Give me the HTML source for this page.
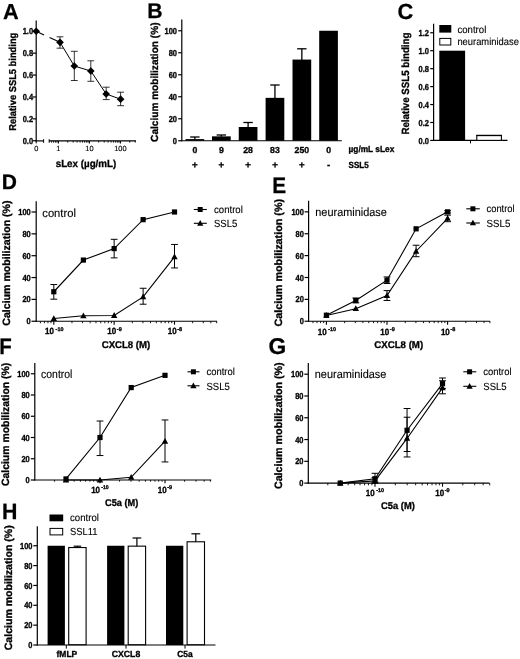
<!DOCTYPE html>
<html><head><meta charset="utf-8"><title>Figure</title>
<style>
html,body{margin:0;padding:0;background:#fff;}
body{width:520px;height:659px;overflow:hidden;font-family:"Liberation Sans",sans-serif;}
svg{display:block;filter:grayscale(1);}
svg text{font-family:"Liberation Sans",sans-serif;text-rendering:geometricPrecision;}
</style></head><body>
<svg width="520" height="659" viewBox="0 0 520 659">
<rect x="0" y="0" width="520" height="659" fill="#fff"/>
<text x="3.00" y="19.20" font-size="21.7" font-weight="bold" text-anchor="start" fill="#000" stroke="#000" stroke-width="0.25">A</text>
<line x1="36.20" y1="20.50" x2="36.20" y2="141.35" stroke="#000" stroke-width="1.2" />
<line x1="32.70" y1="31.25" x2="36.20" y2="31.25" stroke="#000" stroke-width="1.2" />
<text x="33.10" y="34.34" font-size="8.7" font-weight="bold" text-anchor="end" fill="#000" stroke="#000" stroke-width="0.32" textLength="10.40" lengthAdjust="spacingAndGlyphs">1.0</text>
<line x1="32.70" y1="53.15" x2="36.20" y2="53.15" stroke="#000" stroke-width="1.2" />
<text x="33.10" y="56.24" font-size="8.7" font-weight="bold" text-anchor="end" fill="#000" stroke="#000" stroke-width="0.32" textLength="10.40" lengthAdjust="spacingAndGlyphs">0.8</text>
<line x1="32.70" y1="75.05" x2="36.20" y2="75.05" stroke="#000" stroke-width="1.2" />
<text x="33.10" y="78.14" font-size="8.7" font-weight="bold" text-anchor="end" fill="#000" stroke="#000" stroke-width="0.32" textLength="10.40" lengthAdjust="spacingAndGlyphs">0.6</text>
<line x1="32.70" y1="96.95" x2="36.20" y2="96.95" stroke="#000" stroke-width="1.2" />
<text x="33.10" y="100.04" font-size="8.7" font-weight="bold" text-anchor="end" fill="#000" stroke="#000" stroke-width="0.32" textLength="10.40" lengthAdjust="spacingAndGlyphs">0.4</text>
<line x1="32.70" y1="118.85" x2="36.20" y2="118.85" stroke="#000" stroke-width="1.2" />
<text x="33.10" y="121.94" font-size="8.7" font-weight="bold" text-anchor="end" fill="#000" stroke="#000" stroke-width="0.32" textLength="10.40" lengthAdjust="spacingAndGlyphs">0.2</text>
<line x1="32.70" y1="140.75" x2="36.20" y2="140.75" stroke="#000" stroke-width="1.2" />
<text x="33.10" y="143.84" font-size="8.7" font-weight="bold" text-anchor="end" fill="#000" stroke="#000" stroke-width="0.32" textLength="10.40" lengthAdjust="spacingAndGlyphs">0.0</text>
<line x1="35.60" y1="140.90" x2="43.60" y2="140.90" stroke="#000" stroke-width="1.2" />
<line x1="43.60" y1="139.20" x2="43.60" y2="142.80" stroke="#000" stroke-width="1.0" />
<line x1="49.20" y1="140.90" x2="136.00" y2="140.90" stroke="#000" stroke-width="1.2" />
<line x1="49.20" y1="139.20" x2="49.20" y2="142.80" stroke="#000" stroke-width="1.0" />
<line x1="51.52" y1="140.90" x2="51.52" y2="142.60" stroke="#000" stroke-width="0.9" />
<line x1="53.60" y1="140.90" x2="53.60" y2="142.60" stroke="#000" stroke-width="0.9" />
<line x1="55.40" y1="140.90" x2="55.40" y2="142.60" stroke="#000" stroke-width="0.9" />
<line x1="56.98" y1="140.90" x2="56.98" y2="142.60" stroke="#000" stroke-width="0.9" />
<line x1="58.40" y1="140.90" x2="58.40" y2="143.50" stroke="#000" stroke-width="1.1" />
<line x1="67.73" y1="140.90" x2="67.73" y2="142.60" stroke="#000" stroke-width="0.9" />
<line x1="73.19" y1="140.90" x2="73.19" y2="142.60" stroke="#000" stroke-width="0.9" />
<line x1="77.06" y1="140.90" x2="77.06" y2="142.60" stroke="#000" stroke-width="0.9" />
<line x1="80.07" y1="140.90" x2="80.07" y2="142.60" stroke="#000" stroke-width="0.9" />
<line x1="82.52" y1="140.90" x2="82.52" y2="142.60" stroke="#000" stroke-width="0.9" />
<line x1="84.60" y1="140.90" x2="84.60" y2="142.60" stroke="#000" stroke-width="0.9" />
<line x1="86.40" y1="140.90" x2="86.40" y2="142.60" stroke="#000" stroke-width="0.9" />
<line x1="87.98" y1="140.90" x2="87.98" y2="142.60" stroke="#000" stroke-width="0.9" />
<line x1="89.40" y1="140.90" x2="89.40" y2="143.50" stroke="#000" stroke-width="1.1" />
<line x1="98.73" y1="140.90" x2="98.73" y2="142.60" stroke="#000" stroke-width="0.9" />
<line x1="104.19" y1="140.90" x2="104.19" y2="142.60" stroke="#000" stroke-width="0.9" />
<line x1="108.06" y1="140.90" x2="108.06" y2="142.60" stroke="#000" stroke-width="0.9" />
<line x1="111.07" y1="140.90" x2="111.07" y2="142.60" stroke="#000" stroke-width="0.9" />
<line x1="113.52" y1="140.90" x2="113.52" y2="142.60" stroke="#000" stroke-width="0.9" />
<line x1="115.60" y1="140.90" x2="115.60" y2="142.60" stroke="#000" stroke-width="0.9" />
<line x1="117.40" y1="140.90" x2="117.40" y2="142.60" stroke="#000" stroke-width="0.9" />
<line x1="118.98" y1="140.90" x2="118.98" y2="142.60" stroke="#000" stroke-width="0.9" />
<line x1="120.40" y1="140.90" x2="120.40" y2="143.50" stroke="#000" stroke-width="1.1" />
<line x1="129.73" y1="140.90" x2="129.73" y2="142.60" stroke="#000" stroke-width="0.9" />
<line x1="135.19" y1="140.90" x2="135.19" y2="142.60" stroke="#000" stroke-width="0.9" />
<line x1="36.20" y1="140.90" x2="36.20" y2="143.40" stroke="#000" stroke-width="1.0" />
<text x="36.20" y="151.00" font-size="7.4" font-weight="normal" text-anchor="middle" fill="#000" stroke="#000" stroke-width="0.12">0</text>
<text x="58.40" y="151.00" font-size="7.4" font-weight="normal" text-anchor="middle" fill="#000" stroke="#000" stroke-width="0.12">1</text>
<text x="89.40" y="151.00" font-size="7.4" font-weight="normal" text-anchor="middle" fill="#000" stroke="#000" stroke-width="0.12">10</text>
<text x="120.40" y="151.00" font-size="7.4" font-weight="normal" text-anchor="middle" fill="#000" stroke="#000" stroke-width="0.12">100</text>
<text x="86.00" y="167.00" font-size="10.2" font-weight="bold" text-anchor="middle" fill="#000" stroke="#000" stroke-width="0.32" textLength="60.60" lengthAdjust="spacingAndGlyphs">sLex (µg/mL)</text>
<text x="15.60" y="81.70" font-size="10" font-weight="bold" text-anchor="middle" fill="#000" stroke="#000" stroke-width="0.32" textLength="98.00" lengthAdjust="spacingAndGlyphs" transform="rotate(-90 15.60 81.70)">Relative SSL5 binding</text>
<line x1="36.20" y1="31.25" x2="44.05" y2="34.90" stroke="#000" stroke-width="1.1" />
<line x1="49.53" y1="37.44" x2="60.00" y2="42.30" stroke="#000" stroke-width="1.1" />
<polyline points="60.00,42.30 74.30,66.00 90.80,71.00 106.20,94.00 120.60,99.20" fill="none" stroke="#000" stroke-width="1.0"/>
<line x1="60.00" y1="36.80" x2="60.00" y2="48.20" stroke="#000" stroke-width="0.8" />
<line x1="56.60" y1="36.80" x2="63.40" y2="36.80" stroke="#000" stroke-width="0.8" />
<line x1="56.60" y1="48.20" x2="63.40" y2="48.20" stroke="#000" stroke-width="0.8" />
<line x1="74.30" y1="51.30" x2="74.30" y2="80.50" stroke="#000" stroke-width="0.8" />
<line x1="70.90" y1="51.30" x2="77.70" y2="51.30" stroke="#000" stroke-width="0.8" />
<line x1="70.90" y1="80.50" x2="77.70" y2="80.50" stroke="#000" stroke-width="0.8" />
<line x1="90.80" y1="60.80" x2="90.80" y2="81.30" stroke="#000" stroke-width="0.8" />
<line x1="87.40" y1="60.80" x2="94.20" y2="60.80" stroke="#000" stroke-width="0.8" />
<line x1="87.40" y1="81.30" x2="94.20" y2="81.30" stroke="#000" stroke-width="0.8" />
<line x1="106.20" y1="87.20" x2="106.20" y2="99.60" stroke="#000" stroke-width="0.8" />
<line x1="102.80" y1="87.20" x2="109.60" y2="87.20" stroke="#000" stroke-width="0.8" />
<line x1="102.80" y1="99.60" x2="109.60" y2="99.60" stroke="#000" stroke-width="0.8" />
<line x1="120.60" y1="92.20" x2="120.60" y2="105.70" stroke="#000" stroke-width="0.8" />
<line x1="117.20" y1="92.20" x2="124.00" y2="92.20" stroke="#000" stroke-width="0.8" />
<line x1="117.20" y1="105.70" x2="124.00" y2="105.70" stroke="#000" stroke-width="0.8" />
<polygon points="36.20,27.40 40.05,31.25 36.20,35.10 32.35,31.25" fill="#000"/>
<polygon points="60.00,38.45 63.85,42.30 60.00,46.15 56.15,42.30" fill="#000"/>
<polygon points="74.30,62.15 78.15,66.00 74.30,69.85 70.45,66.00" fill="#000"/>
<polygon points="90.80,67.15 94.65,71.00 90.80,74.85 86.95,71.00" fill="#000"/>
<polygon points="106.20,90.15 110.05,94.00 106.20,97.85 102.35,94.00" fill="#000"/>
<polygon points="120.60,95.35 124.45,99.20 120.60,103.05 116.75,99.20" fill="#000"/>
<text x="147.30" y="17.60" font-size="21.2" font-weight="bold" text-anchor="start" fill="#000" stroke="#000" stroke-width="0.25">B</text>
<line x1="181.80" y1="19.50" x2="181.80" y2="141.35" stroke="#000" stroke-width="1.2" />
<line x1="178.20" y1="30.75" x2="181.80" y2="30.75" stroke="#000" stroke-width="1.2" />
<text x="177.00" y="33.84" font-size="8.7" font-weight="bold" text-anchor="end" fill="#000" stroke="#000" stroke-width="0.32" textLength="12.48" lengthAdjust="spacingAndGlyphs">100</text>
<line x1="178.20" y1="52.75" x2="181.80" y2="52.75" stroke="#000" stroke-width="1.2" />
<text x="177.00" y="55.84" font-size="8.7" font-weight="bold" text-anchor="end" fill="#000" stroke="#000" stroke-width="0.32" textLength="8.32" lengthAdjust="spacingAndGlyphs">80</text>
<line x1="178.20" y1="74.75" x2="181.80" y2="74.75" stroke="#000" stroke-width="1.2" />
<text x="177.00" y="77.84" font-size="8.7" font-weight="bold" text-anchor="end" fill="#000" stroke="#000" stroke-width="0.32" textLength="8.32" lengthAdjust="spacingAndGlyphs">60</text>
<line x1="178.20" y1="96.75" x2="181.80" y2="96.75" stroke="#000" stroke-width="1.2" />
<text x="177.00" y="99.84" font-size="8.7" font-weight="bold" text-anchor="end" fill="#000" stroke="#000" stroke-width="0.32" textLength="8.32" lengthAdjust="spacingAndGlyphs">40</text>
<line x1="178.20" y1="118.75" x2="181.80" y2="118.75" stroke="#000" stroke-width="1.2" />
<text x="177.00" y="121.84" font-size="8.7" font-weight="bold" text-anchor="end" fill="#000" stroke="#000" stroke-width="0.32" textLength="8.32" lengthAdjust="spacingAndGlyphs">20</text>
<line x1="178.20" y1="140.75" x2="181.80" y2="140.75" stroke="#000" stroke-width="1.2" />
<text x="177.00" y="143.84" font-size="8.7" font-weight="bold" text-anchor="end" fill="#000" stroke="#000" stroke-width="0.32" textLength="4.16" lengthAdjust="spacingAndGlyphs">0</text>
<line x1="181.20" y1="140.75" x2="341.80" y2="140.75" stroke="#000" stroke-width="1.2" />
<text x="157.70" y="82.20" font-size="10.3" font-weight="bold" text-anchor="middle" fill="#000" stroke="#000" stroke-width="0.32" textLength="119.40" lengthAdjust="spacingAndGlyphs" transform="rotate(-90 157.70 82.20)">Calcium mobilization (%)</text>
<rect x="185.50" y="139.10" width="18.70" height="1.65" fill="#000"/>
<line x1="194.85" y1="137.00" x2="194.85" y2="139.60" stroke="#000" stroke-width="1.3" />
<line x1="190.15" y1="137.00" x2="199.55" y2="137.00" stroke="#000" stroke-width="1.3" />
<text x="194.85" y="152.60" font-size="8.7" font-weight="bold" text-anchor="middle" fill="#000" stroke="#000" stroke-width="0.32">0</text>
<text x="194.85" y="168.30" font-size="9.6" font-weight="bold" text-anchor="middle" fill="#000" stroke="#000" stroke-width="0.32">+</text>
<rect x="212.00" y="136.35" width="18.70" height="4.40" fill="#000"/>
<line x1="221.35" y1="135.00" x2="221.35" y2="136.85" stroke="#000" stroke-width="1.3" />
<line x1="216.65" y1="135.00" x2="226.05" y2="135.00" stroke="#000" stroke-width="1.3" />
<text x="221.35" y="152.60" font-size="8.7" font-weight="bold" text-anchor="middle" fill="#000" stroke="#000" stroke-width="0.32">9</text>
<text x="221.35" y="168.30" font-size="9.6" font-weight="bold" text-anchor="middle" fill="#000" stroke="#000" stroke-width="0.32">+</text>
<rect x="238.75" y="127.00" width="18.70" height="13.75" fill="#000"/>
<line x1="248.10" y1="122.50" x2="248.10" y2="127.50" stroke="#000" stroke-width="1.3" />
<line x1="243.40" y1="122.50" x2="252.80" y2="122.50" stroke="#000" stroke-width="1.3" />
<text x="248.10" y="152.60" font-size="8.7" font-weight="bold" text-anchor="middle" fill="#000" stroke="#000" stroke-width="0.32">28</text>
<text x="248.10" y="168.30" font-size="9.6" font-weight="bold" text-anchor="middle" fill="#000" stroke="#000" stroke-width="0.32">+</text>
<rect x="265.60" y="97.85" width="18.70" height="42.90" fill="#000"/>
<line x1="274.95" y1="85.00" x2="274.95" y2="98.35" stroke="#000" stroke-width="1.3" />
<line x1="270.25" y1="85.00" x2="279.65" y2="85.00" stroke="#000" stroke-width="1.3" />
<text x="274.95" y="152.60" font-size="8.7" font-weight="bold" text-anchor="middle" fill="#000" stroke="#000" stroke-width="0.32">83</text>
<text x="274.95" y="168.30" font-size="9.6" font-weight="bold" text-anchor="middle" fill="#000" stroke="#000" stroke-width="0.32">+</text>
<rect x="292.50" y="59.57" width="18.70" height="81.18" fill="#000"/>
<line x1="301.85" y1="48.80" x2="301.85" y2="60.07" stroke="#000" stroke-width="1.3" />
<line x1="297.15" y1="48.80" x2="306.55" y2="48.80" stroke="#000" stroke-width="1.3" />
<text x="301.85" y="152.60" font-size="8.7" font-weight="bold" text-anchor="middle" fill="#000" stroke="#000" stroke-width="0.32">250</text>
<text x="301.85" y="168.30" font-size="9.6" font-weight="bold" text-anchor="middle" fill="#000" stroke="#000" stroke-width="0.32">+</text>
<rect x="319.20" y="30.75" width="18.70" height="110.00" fill="#000"/>
<text x="328.55" y="152.60" font-size="8.7" font-weight="bold" text-anchor="middle" fill="#000" stroke="#000" stroke-width="0.32">0</text>
<text x="328.55" y="168.30" font-size="9.6" font-weight="bold" text-anchor="middle" fill="#000" stroke="#000" stroke-width="0.32">-</text>
<text x="348.50" y="152.20" font-size="8.9" font-weight="bold" text-anchor="start" fill="#000" stroke="#000" stroke-width="0.32" textLength="45.80" lengthAdjust="spacingAndGlyphs">µg/mL sLex</text>
<text x="348.50" y="168.40" font-size="8.9" font-weight="bold" text-anchor="start" fill="#000" stroke="#000" stroke-width="0.32" textLength="20.20" lengthAdjust="spacingAndGlyphs">SSL5</text>
<text x="397.60" y="18.60" font-size="21.8" font-weight="bold" text-anchor="start" fill="#000" stroke="#000" stroke-width="0.25">C</text>
<line x1="433.60" y1="23.80" x2="433.60" y2="141.00" stroke="#000" stroke-width="1.2" />
<line x1="430.20" y1="32.75" x2="433.60" y2="32.75" stroke="#000" stroke-width="1.2" />
<text x="429.00" y="35.84" font-size="8.7" font-weight="bold" text-anchor="end" fill="#000" stroke="#000" stroke-width="0.32" textLength="10.40" lengthAdjust="spacingAndGlyphs">1.2</text>
<line x1="430.20" y1="50.70" x2="433.60" y2="50.70" stroke="#000" stroke-width="1.2" />
<text x="429.00" y="53.79" font-size="8.7" font-weight="bold" text-anchor="end" fill="#000" stroke="#000" stroke-width="0.32" textLength="10.40" lengthAdjust="spacingAndGlyphs">1.0</text>
<line x1="430.20" y1="68.65" x2="433.60" y2="68.65" stroke="#000" stroke-width="1.2" />
<text x="429.00" y="71.74" font-size="8.7" font-weight="bold" text-anchor="end" fill="#000" stroke="#000" stroke-width="0.32" textLength="10.40" lengthAdjust="spacingAndGlyphs">0.8</text>
<line x1="430.20" y1="86.60" x2="433.60" y2="86.60" stroke="#000" stroke-width="1.2" />
<text x="429.00" y="89.69" font-size="8.7" font-weight="bold" text-anchor="end" fill="#000" stroke="#000" stroke-width="0.32" textLength="10.40" lengthAdjust="spacingAndGlyphs">0.6</text>
<line x1="430.20" y1="104.55" x2="433.60" y2="104.55" stroke="#000" stroke-width="1.2" />
<text x="429.00" y="107.64" font-size="8.7" font-weight="bold" text-anchor="end" fill="#000" stroke="#000" stroke-width="0.32" textLength="10.40" lengthAdjust="spacingAndGlyphs">0.4</text>
<line x1="430.20" y1="122.50" x2="433.60" y2="122.50" stroke="#000" stroke-width="1.2" />
<text x="429.00" y="125.59" font-size="8.7" font-weight="bold" text-anchor="end" fill="#000" stroke="#000" stroke-width="0.32" textLength="10.40" lengthAdjust="spacingAndGlyphs">0.2</text>
<line x1="430.20" y1="140.45" x2="433.60" y2="140.45" stroke="#000" stroke-width="1.2" />
<text x="429.00" y="143.54" font-size="8.7" font-weight="bold" text-anchor="end" fill="#000" stroke="#000" stroke-width="0.32" textLength="10.40" lengthAdjust="spacingAndGlyphs">0.0</text>
<line x1="433.20" y1="140.40" x2="507.50" y2="140.40" stroke="#000" stroke-width="1.2" />
<line x1="470.50" y1="140.40" x2="470.50" y2="143.40" stroke="#000" stroke-width="1.0" />
<rect x="439.30" y="50.70" width="25.80" height="89.70" fill="#000"/>
<rect x="476.80" y="135.60" width="24.60" height="4.80" fill="#fff" stroke="#000" stroke-width="1.1"/>
<line x1="476.30" y1="135.40" x2="501.90" y2="135.40" stroke="#000" stroke-width="1.25" />
<rect x="439.30" y="25.00" width="12.00" height="7.60" fill="#000"/>
<rect x="439.80" y="38.40" width="11.00" height="6.60" fill="#fff" stroke="#000" stroke-width="1.0"/>
<text x="457.40" y="32.80" font-size="10.2" font-weight="normal" text-anchor="start" fill="#000" stroke="#000" stroke-width="0.12" textLength="28.90" lengthAdjust="spacingAndGlyphs">control</text>
<text x="457.40" y="44.80" font-size="10.2" font-weight="normal" text-anchor="start" fill="#000" stroke="#000" stroke-width="0.12" textLength="61.50" lengthAdjust="spacingAndGlyphs">neuraminidase</text>
<text x="409.10" y="83.60" font-size="10.4" font-weight="bold" text-anchor="middle" fill="#000" stroke="#000" stroke-width="0.32" textLength="102.00" lengthAdjust="spacingAndGlyphs" transform="rotate(-90 409.10 83.60)">Relative SSL5 binding</text>
<text x="1.80" y="189.10" font-size="21.0" font-weight="bold" text-anchor="start" fill="#000" stroke="#000" stroke-width="0.25">D</text>
<line x1="36.20" y1="201.30" x2="36.20" y2="321.85" stroke="#000" stroke-width="1.2" />
<line x1="31.50" y1="212.00" x2="36.20" y2="212.00" stroke="#000" stroke-width="1.2" />
<text x="30.70" y="215.09" font-size="8.7" font-weight="bold" text-anchor="end" fill="#000" stroke="#000" stroke-width="0.32" textLength="12.48" lengthAdjust="spacingAndGlyphs">100</text>
<line x1="31.50" y1="233.85" x2="36.20" y2="233.85" stroke="#000" stroke-width="1.2" />
<text x="30.70" y="236.94" font-size="8.7" font-weight="bold" text-anchor="end" fill="#000" stroke="#000" stroke-width="0.32" textLength="8.32" lengthAdjust="spacingAndGlyphs">80</text>
<line x1="31.50" y1="255.70" x2="36.20" y2="255.70" stroke="#000" stroke-width="1.2" />
<text x="30.70" y="258.79" font-size="8.7" font-weight="bold" text-anchor="end" fill="#000" stroke="#000" stroke-width="0.32" textLength="8.32" lengthAdjust="spacingAndGlyphs">60</text>
<line x1="31.50" y1="277.55" x2="36.20" y2="277.55" stroke="#000" stroke-width="1.2" />
<text x="30.70" y="280.64" font-size="8.7" font-weight="bold" text-anchor="end" fill="#000" stroke="#000" stroke-width="0.32" textLength="8.32" lengthAdjust="spacingAndGlyphs">40</text>
<line x1="31.50" y1="299.40" x2="36.20" y2="299.40" stroke="#000" stroke-width="1.2" />
<text x="30.70" y="302.49" font-size="8.7" font-weight="bold" text-anchor="end" fill="#000" stroke="#000" stroke-width="0.32" textLength="8.32" lengthAdjust="spacingAndGlyphs">20</text>
<line x1="31.50" y1="321.25" x2="36.20" y2="321.25" stroke="#000" stroke-width="1.2" />
<text x="30.70" y="324.34" font-size="8.7" font-weight="bold" text-anchor="end" fill="#000" stroke="#000" stroke-width="0.32" textLength="4.16" lengthAdjust="spacingAndGlyphs">0</text>
<line x1="35.60" y1="321.25" x2="217.00" y2="321.25" stroke="#000" stroke-width="1.2" />
<line x1="40.41" y1="321.25" x2="40.41" y2="323.25" stroke="#000" stroke-width="0.9" />
<line x1="44.45" y1="321.25" x2="44.45" y2="323.25" stroke="#000" stroke-width="0.9" />
<line x1="47.95" y1="321.25" x2="47.95" y2="323.25" stroke="#000" stroke-width="0.9" />
<line x1="51.04" y1="321.25" x2="51.04" y2="323.25" stroke="#000" stroke-width="0.9" />
<line x1="53.80" y1="321.25" x2="53.80" y2="324.65" stroke="#000" stroke-width="1.1" />
<line x1="71.97" y1="321.25" x2="71.97" y2="323.25" stroke="#000" stroke-width="0.9" />
<line x1="82.59" y1="321.25" x2="82.59" y2="323.25" stroke="#000" stroke-width="0.9" />
<line x1="90.13" y1="321.25" x2="90.13" y2="323.25" stroke="#000" stroke-width="0.9" />
<line x1="95.98" y1="321.25" x2="95.98" y2="323.25" stroke="#000" stroke-width="0.9" />
<line x1="100.76" y1="321.25" x2="100.76" y2="323.25" stroke="#000" stroke-width="0.9" />
<line x1="104.80" y1="321.25" x2="104.80" y2="323.25" stroke="#000" stroke-width="0.9" />
<line x1="108.30" y1="321.25" x2="108.30" y2="323.25" stroke="#000" stroke-width="0.9" />
<line x1="111.39" y1="321.25" x2="111.39" y2="323.25" stroke="#000" stroke-width="0.9" />
<line x1="114.15" y1="321.25" x2="114.15" y2="324.65" stroke="#000" stroke-width="1.1" />
<line x1="132.32" y1="321.25" x2="132.32" y2="323.25" stroke="#000" stroke-width="0.9" />
<line x1="142.94" y1="321.25" x2="142.94" y2="323.25" stroke="#000" stroke-width="0.9" />
<line x1="150.48" y1="321.25" x2="150.48" y2="323.25" stroke="#000" stroke-width="0.9" />
<line x1="156.33" y1="321.25" x2="156.33" y2="323.25" stroke="#000" stroke-width="0.9" />
<line x1="161.11" y1="321.25" x2="161.11" y2="323.25" stroke="#000" stroke-width="0.9" />
<line x1="165.15" y1="321.25" x2="165.15" y2="323.25" stroke="#000" stroke-width="0.9" />
<line x1="168.65" y1="321.25" x2="168.65" y2="323.25" stroke="#000" stroke-width="0.9" />
<line x1="171.74" y1="321.25" x2="171.74" y2="323.25" stroke="#000" stroke-width="0.9" />
<line x1="174.50" y1="321.25" x2="174.50" y2="324.65" stroke="#000" stroke-width="1.1" />
<line x1="192.67" y1="321.25" x2="192.67" y2="323.25" stroke="#000" stroke-width="0.9" />
<line x1="203.29" y1="321.25" x2="203.29" y2="323.25" stroke="#000" stroke-width="0.9" />
<line x1="210.83" y1="321.25" x2="210.83" y2="323.25" stroke="#000" stroke-width="0.9" />
<line x1="216.68" y1="321.25" x2="216.68" y2="323.25" stroke="#000" stroke-width="0.9" />
<text x="45.00" y="334.35" font-size="9.0" font-weight="bold" text-anchor="start" fill="#000" stroke="#000" stroke-width="0.32" textLength="8.90" lengthAdjust="spacingAndGlyphs">10</text>
<text x="55.60" y="330.95" font-size="5.4" font-weight="bold" text-anchor="start" fill="#000" stroke="#000" stroke-width="0.32" textLength="7.80" lengthAdjust="spacingAndGlyphs">-10</text>
<text x="107.35" y="334.35" font-size="9.0" font-weight="bold" text-anchor="start" fill="#000" stroke="#000" stroke-width="0.32" textLength="8.90" lengthAdjust="spacingAndGlyphs">10</text>
<text x="116.85" y="330.95" font-size="5.4" font-weight="bold" text-anchor="start" fill="#000" stroke="#000" stroke-width="0.32" textLength="4.90" lengthAdjust="spacingAndGlyphs">-9</text>
<text x="167.70" y="334.35" font-size="9.0" font-weight="bold" text-anchor="start" fill="#000" stroke="#000" stroke-width="0.32" textLength="8.90" lengthAdjust="spacingAndGlyphs">10</text>
<text x="177.20" y="330.95" font-size="5.4" font-weight="bold" text-anchor="start" fill="#000" stroke="#000" stroke-width="0.32" textLength="4.90" lengthAdjust="spacingAndGlyphs">-8</text>
<text x="9.70" y="263.10" font-size="10.6" font-weight="bold" text-anchor="middle" fill="#000" stroke="#000" stroke-width="0.32" textLength="125.30" lengthAdjust="spacingAndGlyphs" transform="rotate(-90 9.70 263.10)">Calcium mobilization (%)</text>
<text x="42.30" y="216.50" font-size="11.6" font-weight="normal" text-anchor="start" fill="#000" stroke="#000" stroke-width="0.12" textLength="33.60" lengthAdjust="spacingAndGlyphs">control</text>
<line x1="193.80" y1="209.50" x2="206.80" y2="209.50" stroke="#000" stroke-width="1.1" />
<rect x="197.70" y="207.00" width="5.00" height="5.00" fill="#000"/>
<line x1="193.80" y1="223.30" x2="206.80" y2="223.30" stroke="#000" stroke-width="1.1" />
<polygon points="200.20,220.06 197.10,225.64 203.30,225.64" fill="#000"/>
<text x="214.00" y="213.00" font-size="10.3" font-weight="normal" text-anchor="start" fill="#000" stroke="#000" stroke-width="0.12" textLength="28.80" lengthAdjust="spacingAndGlyphs">control</text>
<text x="214.00" y="227.00" font-size="10.3" font-weight="normal" text-anchor="start" fill="#000" stroke="#000" stroke-width="0.12" textLength="23.30" lengthAdjust="spacingAndGlyphs">SSL5</text>
<text x="126.00" y="348.00" font-size="9.8" font-weight="bold" text-anchor="middle" fill="#000" stroke="#000" stroke-width="0.32" textLength="48.60" lengthAdjust="spacingAndGlyphs">CXCL8 (M)</text>
<polyline points="53.80,291.75 83.37,260.07 114.15,248.60 143.12,219.65 174.50,212.00" fill="none" stroke="#000" stroke-width="1.1"/>
<polyline points="53.80,318.52 83.37,315.79 114.15,315.46 143.12,296.89 174.50,256.79" fill="none" stroke="#000" stroke-width="1.1"/>
<line x1="53.80" y1="284.54" x2="53.80" y2="299.18" stroke="#000" stroke-width="1.0" />
<line x1="50.40" y1="284.54" x2="57.20" y2="284.54" stroke="#000" stroke-width="1.0" />
<line x1="50.40" y1="299.18" x2="57.20" y2="299.18" stroke="#000" stroke-width="1.0" />
<line x1="114.15" y1="239.31" x2="114.15" y2="257.88" stroke="#000" stroke-width="1.0" />
<line x1="110.75" y1="239.31" x2="117.55" y2="239.31" stroke="#000" stroke-width="1.0" />
<line x1="110.75" y1="257.88" x2="117.55" y2="257.88" stroke="#000" stroke-width="1.0" />
<line x1="143.12" y1="288.26" x2="143.12" y2="304.21" stroke="#000" stroke-width="1.0" />
<line x1="139.72" y1="288.26" x2="146.52" y2="288.26" stroke="#000" stroke-width="1.0" />
<line x1="139.72" y1="304.21" x2="146.52" y2="304.21" stroke="#000" stroke-width="1.0" />
<line x1="174.50" y1="244.45" x2="174.50" y2="267.94" stroke="#000" stroke-width="1.0" />
<line x1="171.10" y1="244.45" x2="177.90" y2="244.45" stroke="#000" stroke-width="1.0" />
<line x1="171.10" y1="267.94" x2="177.90" y2="267.94" stroke="#000" stroke-width="1.0" />
<rect x="51.20" y="289.15" width="5.20" height="5.20" fill="#000"/>
<rect x="80.77" y="257.47" width="5.20" height="5.20" fill="#000"/>
<rect x="111.55" y="246.00" width="5.20" height="5.20" fill="#000"/>
<rect x="140.52" y="217.05" width="5.20" height="5.20" fill="#000"/>
<rect x="171.90" y="209.40" width="5.20" height="5.20" fill="#000"/>
<polygon points="53.80,315.18 50.60,320.94 57.00,320.94" fill="#000"/>
<polygon points="83.37,312.45 80.17,318.21 86.57,318.21" fill="#000"/>
<polygon points="114.15,312.12 110.95,317.88 117.35,317.88" fill="#000"/>
<polygon points="143.12,293.55 139.92,299.31 146.32,299.31" fill="#000"/>
<polygon points="174.50,253.45 171.30,259.21 177.70,259.21" fill="#000"/>
<text x="272.30" y="192.80" font-size="22.4" font-weight="bold" text-anchor="start" fill="#000" stroke="#000" stroke-width="0.25" textLength="13.90" lengthAdjust="spacingAndGlyphs">E</text>
<line x1="308.60" y1="200.80" x2="308.60" y2="321.85" stroke="#000" stroke-width="1.2" />
<line x1="304.60" y1="211.85" x2="308.60" y2="211.85" stroke="#000" stroke-width="1.2" />
<text x="303.90" y="214.94" font-size="8.7" font-weight="bold" text-anchor="end" fill="#000" stroke="#000" stroke-width="0.32" textLength="12.48" lengthAdjust="spacingAndGlyphs">100</text>
<line x1="304.60" y1="233.73" x2="308.60" y2="233.73" stroke="#000" stroke-width="1.2" />
<text x="303.90" y="236.82" font-size="8.7" font-weight="bold" text-anchor="end" fill="#000" stroke="#000" stroke-width="0.32" textLength="8.32" lengthAdjust="spacingAndGlyphs">80</text>
<line x1="304.60" y1="255.61" x2="308.60" y2="255.61" stroke="#000" stroke-width="1.2" />
<text x="303.90" y="258.70" font-size="8.7" font-weight="bold" text-anchor="end" fill="#000" stroke="#000" stroke-width="0.32" textLength="8.32" lengthAdjust="spacingAndGlyphs">60</text>
<line x1="304.60" y1="277.49" x2="308.60" y2="277.49" stroke="#000" stroke-width="1.2" />
<text x="303.90" y="280.58" font-size="8.7" font-weight="bold" text-anchor="end" fill="#000" stroke="#000" stroke-width="0.32" textLength="8.32" lengthAdjust="spacingAndGlyphs">40</text>
<line x1="304.60" y1="299.37" x2="308.60" y2="299.37" stroke="#000" stroke-width="1.2" />
<text x="303.90" y="302.46" font-size="8.7" font-weight="bold" text-anchor="end" fill="#000" stroke="#000" stroke-width="0.32" textLength="8.32" lengthAdjust="spacingAndGlyphs">20</text>
<line x1="304.60" y1="321.25" x2="308.60" y2="321.25" stroke="#000" stroke-width="1.2" />
<text x="303.90" y="324.34" font-size="8.7" font-weight="bold" text-anchor="end" fill="#000" stroke="#000" stroke-width="0.32" textLength="4.16" lengthAdjust="spacingAndGlyphs">0</text>
<line x1="308.00" y1="321.25" x2="490.00" y2="321.25" stroke="#000" stroke-width="1.2" />
<line x1="312.96" y1="321.25" x2="312.96" y2="323.15" stroke="#000" stroke-width="0.9" />
<line x1="317.01" y1="321.25" x2="317.01" y2="323.15" stroke="#000" stroke-width="0.9" />
<line x1="320.53" y1="321.25" x2="320.53" y2="323.15" stroke="#000" stroke-width="0.9" />
<line x1="323.63" y1="321.25" x2="323.63" y2="323.15" stroke="#000" stroke-width="0.9" />
<line x1="326.40" y1="321.25" x2="326.40" y2="324.65" stroke="#000" stroke-width="1.1" />
<line x1="344.64" y1="321.25" x2="344.64" y2="323.15" stroke="#000" stroke-width="0.9" />
<line x1="355.31" y1="321.25" x2="355.31" y2="323.15" stroke="#000" stroke-width="0.9" />
<line x1="362.88" y1="321.25" x2="362.88" y2="323.15" stroke="#000" stroke-width="0.9" />
<line x1="368.76" y1="321.25" x2="368.76" y2="323.15" stroke="#000" stroke-width="0.9" />
<line x1="373.56" y1="321.25" x2="373.56" y2="323.15" stroke="#000" stroke-width="0.9" />
<line x1="377.61" y1="321.25" x2="377.61" y2="323.15" stroke="#000" stroke-width="0.9" />
<line x1="381.13" y1="321.25" x2="381.13" y2="323.15" stroke="#000" stroke-width="0.9" />
<line x1="384.23" y1="321.25" x2="384.23" y2="323.15" stroke="#000" stroke-width="0.9" />
<line x1="387.00" y1="321.25" x2="387.00" y2="324.65" stroke="#000" stroke-width="1.1" />
<line x1="405.24" y1="321.25" x2="405.24" y2="323.15" stroke="#000" stroke-width="0.9" />
<line x1="415.91" y1="321.25" x2="415.91" y2="323.15" stroke="#000" stroke-width="0.9" />
<line x1="423.48" y1="321.25" x2="423.48" y2="323.15" stroke="#000" stroke-width="0.9" />
<line x1="429.36" y1="321.25" x2="429.36" y2="323.15" stroke="#000" stroke-width="0.9" />
<line x1="434.16" y1="321.25" x2="434.16" y2="323.15" stroke="#000" stroke-width="0.9" />
<line x1="438.21" y1="321.25" x2="438.21" y2="323.15" stroke="#000" stroke-width="0.9" />
<line x1="441.73" y1="321.25" x2="441.73" y2="323.15" stroke="#000" stroke-width="0.9" />
<line x1="444.83" y1="321.25" x2="444.83" y2="323.15" stroke="#000" stroke-width="0.9" />
<line x1="447.60" y1="321.25" x2="447.60" y2="324.65" stroke="#000" stroke-width="1.1" />
<line x1="465.84" y1="321.25" x2="465.84" y2="323.15" stroke="#000" stroke-width="0.9" />
<line x1="476.51" y1="321.25" x2="476.51" y2="323.15" stroke="#000" stroke-width="0.9" />
<line x1="484.08" y1="321.25" x2="484.08" y2="323.15" stroke="#000" stroke-width="0.9" />
<line x1="489.96" y1="321.25" x2="489.96" y2="323.15" stroke="#000" stroke-width="0.9" />
<text x="317.70" y="334.65" font-size="9.0" font-weight="bold" text-anchor="start" fill="#000" stroke="#000" stroke-width="0.32" textLength="8.90" lengthAdjust="spacingAndGlyphs">10</text>
<text x="328.30" y="331.25" font-size="5.4" font-weight="bold" text-anchor="start" fill="#000" stroke="#000" stroke-width="0.32" textLength="7.80" lengthAdjust="spacingAndGlyphs">-10</text>
<text x="380.30" y="334.65" font-size="9.0" font-weight="bold" text-anchor="start" fill="#000" stroke="#000" stroke-width="0.32" textLength="8.90" lengthAdjust="spacingAndGlyphs">10</text>
<text x="389.80" y="331.25" font-size="5.4" font-weight="bold" text-anchor="start" fill="#000" stroke="#000" stroke-width="0.32" textLength="4.90" lengthAdjust="spacingAndGlyphs">-9</text>
<text x="440.90" y="334.65" font-size="9.0" font-weight="bold" text-anchor="start" fill="#000" stroke="#000" stroke-width="0.32" textLength="8.90" lengthAdjust="spacingAndGlyphs">10</text>
<text x="450.40" y="331.25" font-size="5.4" font-weight="bold" text-anchor="start" fill="#000" stroke="#000" stroke-width="0.32" textLength="4.90" lengthAdjust="spacingAndGlyphs">-8</text>
<text x="282.20" y="262.70" font-size="10.6" font-weight="bold" text-anchor="middle" fill="#000" stroke="#000" stroke-width="0.32" textLength="127.60" lengthAdjust="spacingAndGlyphs" transform="rotate(-90 282.20 262.70)">Calcium mobilization (%)</text>
<text x="315.30" y="216.10" font-size="11.6" font-weight="normal" text-anchor="start" fill="#000" stroke="#000" stroke-width="0.12" textLength="71.60" lengthAdjust="spacingAndGlyphs">neuraminidase</text>
<line x1="466.30" y1="208.80" x2="479.80" y2="208.80" stroke="#000" stroke-width="1.1" />
<rect x="470.40" y="206.30" width="5.00" height="5.00" fill="#000"/>
<line x1="466.30" y1="223.00" x2="479.80" y2="223.00" stroke="#000" stroke-width="1.1" />
<polygon points="472.90,219.76 469.80,225.34 476.00,225.34" fill="#000"/>
<text x="486.50" y="212.30" font-size="10.3" font-weight="normal" text-anchor="start" fill="#000" stroke="#000" stroke-width="0.12" textLength="28.10" lengthAdjust="spacingAndGlyphs">control</text>
<text x="486.50" y="226.70" font-size="10.3" font-weight="normal" text-anchor="start" fill="#000" stroke="#000" stroke-width="0.12" textLength="23.80" lengthAdjust="spacingAndGlyphs">SSL5</text>
<text x="398.70" y="348.00" font-size="9.8" font-weight="bold" text-anchor="middle" fill="#000" stroke="#000" stroke-width="0.32" textLength="48.90" lengthAdjust="spacingAndGlyphs">CXCL8 (M)</text>
<polyline points="326.40,315.23 355.79,300.46 387.00,280.23 416.09,228.81 447.60,211.85" fill="none" stroke="#000" stroke-width="1.1"/>
<polyline points="326.40,315.45 355.79,308.67 387.00,295.54 416.09,251.23 447.60,218.41" fill="none" stroke="#000" stroke-width="1.1"/>
<line x1="355.79" y1="298.06" x2="355.79" y2="302.87" stroke="#000" stroke-width="1.0" />
<line x1="352.39" y1="298.06" x2="359.19" y2="298.06" stroke="#000" stroke-width="1.0" />
<line x1="352.39" y1="302.87" x2="359.19" y2="302.87" stroke="#000" stroke-width="1.0" />
<line x1="387.00" y1="276.94" x2="387.00" y2="283.51" stroke="#000" stroke-width="1.0" />
<line x1="383.60" y1="276.94" x2="390.40" y2="276.94" stroke="#000" stroke-width="1.0" />
<line x1="383.60" y1="283.51" x2="390.40" y2="283.51" stroke="#000" stroke-width="1.0" />
<line x1="447.60" y1="210.76" x2="447.60" y2="212.94" stroke="#000" stroke-width="1.0" />
<line x1="444.20" y1="210.76" x2="451.00" y2="210.76" stroke="#000" stroke-width="1.0" />
<line x1="444.20" y1="212.94" x2="451.00" y2="212.94" stroke="#000" stroke-width="1.0" />
<line x1="387.00" y1="290.62" x2="387.00" y2="300.46" stroke="#000" stroke-width="1.0" />
<line x1="383.60" y1="290.62" x2="390.40" y2="290.62" stroke="#000" stroke-width="1.0" />
<line x1="383.60" y1="300.46" x2="390.40" y2="300.46" stroke="#000" stroke-width="1.0" />
<line x1="416.09" y1="245.22" x2="416.09" y2="256.70" stroke="#000" stroke-width="1.0" />
<line x1="412.69" y1="245.22" x2="419.49" y2="245.22" stroke="#000" stroke-width="1.0" />
<line x1="412.69" y1="256.70" x2="419.49" y2="256.70" stroke="#000" stroke-width="1.0" />
<line x1="447.60" y1="215.13" x2="447.60" y2="221.70" stroke="#000" stroke-width="1.0" />
<line x1="444.20" y1="215.13" x2="451.00" y2="215.13" stroke="#000" stroke-width="1.0" />
<line x1="444.20" y1="221.70" x2="451.00" y2="221.70" stroke="#000" stroke-width="1.0" />
<rect x="323.80" y="312.63" width="5.20" height="5.20" fill="#000"/>
<rect x="353.19" y="297.86" width="5.20" height="5.20" fill="#000"/>
<rect x="384.40" y="277.62" width="5.20" height="5.20" fill="#000"/>
<rect x="413.49" y="226.21" width="5.20" height="5.20" fill="#000"/>
<rect x="445.00" y="209.25" width="5.20" height="5.20" fill="#000"/>
<polygon points="326.40,312.11 323.20,317.87 329.60,317.87" fill="#000"/>
<polygon points="355.79,305.33 352.59,311.09 358.99,311.09" fill="#000"/>
<polygon points="387.00,292.20 383.80,297.96 390.20,297.96" fill="#000"/>
<polygon points="416.09,247.89 412.89,253.65 419.29,253.65" fill="#000"/>
<polygon points="447.60,215.07 444.40,220.83 450.80,220.83" fill="#000"/>
<text x="-0.70" y="354.30" font-size="22.5" font-weight="bold" text-anchor="start" fill="#000" stroke="#000" stroke-width="0.25" textLength="12.50" lengthAdjust="spacingAndGlyphs">F</text>
<line x1="34.80" y1="363.00" x2="34.80" y2="480.60" stroke="#000" stroke-width="1.2" />
<line x1="30.80" y1="373.75" x2="34.80" y2="373.75" stroke="#000" stroke-width="1.2" />
<text x="29.70" y="376.84" font-size="8.7" font-weight="bold" text-anchor="end" fill="#000" stroke="#000" stroke-width="0.32" textLength="12.48" lengthAdjust="spacingAndGlyphs">100</text>
<line x1="30.80" y1="395.00" x2="34.80" y2="395.00" stroke="#000" stroke-width="1.2" />
<text x="29.70" y="398.09" font-size="8.7" font-weight="bold" text-anchor="end" fill="#000" stroke="#000" stroke-width="0.32" textLength="8.32" lengthAdjust="spacingAndGlyphs">80</text>
<line x1="30.80" y1="416.25" x2="34.80" y2="416.25" stroke="#000" stroke-width="1.2" />
<text x="29.70" y="419.34" font-size="8.7" font-weight="bold" text-anchor="end" fill="#000" stroke="#000" stroke-width="0.32" textLength="8.32" lengthAdjust="spacingAndGlyphs">60</text>
<line x1="30.80" y1="437.50" x2="34.80" y2="437.50" stroke="#000" stroke-width="1.2" />
<text x="29.70" y="440.59" font-size="8.7" font-weight="bold" text-anchor="end" fill="#000" stroke="#000" stroke-width="0.32" textLength="8.32" lengthAdjust="spacingAndGlyphs">40</text>
<line x1="30.80" y1="458.75" x2="34.80" y2="458.75" stroke="#000" stroke-width="1.2" />
<text x="29.70" y="461.84" font-size="8.7" font-weight="bold" text-anchor="end" fill="#000" stroke="#000" stroke-width="0.32" textLength="8.32" lengthAdjust="spacingAndGlyphs">20</text>
<line x1="30.80" y1="480.00" x2="34.80" y2="480.00" stroke="#000" stroke-width="1.2" />
<text x="29.70" y="483.09" font-size="8.7" font-weight="bold" text-anchor="end" fill="#000" stroke="#000" stroke-width="0.32" textLength="4.16" lengthAdjust="spacingAndGlyphs">0</text>
<line x1="34.20" y1="480.00" x2="211.30" y2="480.00" stroke="#000" stroke-width="1.2" />
<line x1="54.57" y1="480.00" x2="54.57" y2="481.70" stroke="#000" stroke-width="0.9" />
<line x1="66.01" y1="480.00" x2="66.01" y2="481.70" stroke="#000" stroke-width="0.9" />
<line x1="74.13" y1="480.00" x2="74.13" y2="481.70" stroke="#000" stroke-width="0.9" />
<line x1="80.43" y1="480.00" x2="80.43" y2="481.70" stroke="#000" stroke-width="0.9" />
<line x1="85.58" y1="480.00" x2="85.58" y2="481.70" stroke="#000" stroke-width="0.9" />
<line x1="89.93" y1="480.00" x2="89.93" y2="481.70" stroke="#000" stroke-width="0.9" />
<line x1="93.70" y1="480.00" x2="93.70" y2="481.70" stroke="#000" stroke-width="0.9" />
<line x1="97.03" y1="480.00" x2="97.03" y2="481.70" stroke="#000" stroke-width="0.9" />
<line x1="100.00" y1="480.00" x2="100.00" y2="483.20" stroke="#000" stroke-width="1.1" />
<line x1="119.57" y1="480.00" x2="119.57" y2="481.70" stroke="#000" stroke-width="0.9" />
<line x1="131.01" y1="480.00" x2="131.01" y2="481.70" stroke="#000" stroke-width="0.9" />
<line x1="139.13" y1="480.00" x2="139.13" y2="481.70" stroke="#000" stroke-width="0.9" />
<line x1="145.43" y1="480.00" x2="145.43" y2="481.70" stroke="#000" stroke-width="0.9" />
<line x1="150.58" y1="480.00" x2="150.58" y2="481.70" stroke="#000" stroke-width="0.9" />
<line x1="154.93" y1="480.00" x2="154.93" y2="481.70" stroke="#000" stroke-width="0.9" />
<line x1="158.70" y1="480.00" x2="158.70" y2="481.70" stroke="#000" stroke-width="0.9" />
<line x1="162.03" y1="480.00" x2="162.03" y2="481.70" stroke="#000" stroke-width="0.9" />
<line x1="165.00" y1="480.00" x2="165.00" y2="483.20" stroke="#000" stroke-width="1.1" />
<line x1="184.57" y1="480.00" x2="184.57" y2="481.70" stroke="#000" stroke-width="0.9" />
<line x1="196.01" y1="480.00" x2="196.01" y2="481.70" stroke="#000" stroke-width="0.9" />
<line x1="204.13" y1="480.00" x2="204.13" y2="481.70" stroke="#000" stroke-width="0.9" />
<line x1="210.43" y1="480.00" x2="210.43" y2="481.70" stroke="#000" stroke-width="0.9" />
<text x="91.15" y="492.80" font-size="9.0" font-weight="bold" text-anchor="start" fill="#000" stroke="#000" stroke-width="0.32" textLength="8.90" lengthAdjust="spacingAndGlyphs">10</text>
<text x="101.25" y="489.40" font-size="5.4" font-weight="bold" text-anchor="start" fill="#000" stroke="#000" stroke-width="0.32" textLength="7.40" lengthAdjust="spacingAndGlyphs">-10</text>
<text x="157.70" y="492.80" font-size="9.0" font-weight="bold" text-anchor="start" fill="#000" stroke="#000" stroke-width="0.32" textLength="8.90" lengthAdjust="spacingAndGlyphs">10</text>
<text x="167.20" y="489.40" font-size="5.4" font-weight="bold" text-anchor="start" fill="#000" stroke="#000" stroke-width="0.32" textLength="4.90" lengthAdjust="spacingAndGlyphs">-9</text>
<text x="9.20" y="424.40" font-size="10.6" font-weight="bold" text-anchor="middle" fill="#000" stroke="#000" stroke-width="0.32" textLength="123.30" lengthAdjust="spacingAndGlyphs" transform="rotate(-90 9.20 424.40)">Calcium mobilization (%)</text>
<text x="41.10" y="377.70" font-size="11.6" font-weight="normal" text-anchor="start" fill="#000" stroke="#000" stroke-width="0.12" textLength="31.30" lengthAdjust="spacingAndGlyphs">control</text>
<line x1="187.50" y1="371.80" x2="199.50" y2="371.80" stroke="#000" stroke-width="1.1" />
<rect x="190.90" y="369.30" width="5.00" height="5.00" fill="#000"/>
<line x1="187.50" y1="385.80" x2="199.50" y2="385.80" stroke="#000" stroke-width="1.1" />
<polygon points="193.40,382.56 190.30,388.14 196.50,388.14" fill="#000"/>
<text x="206.50" y="375.30" font-size="10.3" font-weight="normal" text-anchor="start" fill="#000" stroke="#000" stroke-width="0.12" textLength="28.30" lengthAdjust="spacingAndGlyphs">control</text>
<text x="206.50" y="389.50" font-size="10.3" font-weight="normal" text-anchor="start" fill="#000" stroke="#000" stroke-width="0.12" textLength="23.30" lengthAdjust="spacingAndGlyphs">SSL5</text>
<text x="121.70" y="506.00" font-size="9.8" font-weight="bold" text-anchor="middle" fill="#000" stroke="#000" stroke-width="0.32" textLength="33.20" lengthAdjust="spacingAndGlyphs">C5a (M)</text>
<polyline points="66.01,478.94 100.00,437.50 131.20,387.56 165.00,375.34" fill="none" stroke="#000" stroke-width="1.1"/>
<polyline points="66.01,480.00 100.00,480.00 131.20,477.34 165.00,441.22" fill="none" stroke="#000" stroke-width="1.1"/>
<line x1="100.00" y1="421.03" x2="100.00" y2="455.56" stroke="#000" stroke-width="1.0" />
<line x1="96.60" y1="421.03" x2="103.40" y2="421.03" stroke="#000" stroke-width="1.0" />
<line x1="96.60" y1="455.56" x2="103.40" y2="455.56" stroke="#000" stroke-width="1.0" />
<line x1="165.00" y1="419.97" x2="165.00" y2="461.94" stroke="#000" stroke-width="1.0" />
<line x1="161.60" y1="419.97" x2="168.40" y2="419.97" stroke="#000" stroke-width="1.0" />
<line x1="161.60" y1="461.94" x2="168.40" y2="461.94" stroke="#000" stroke-width="1.0" />
<rect x="63.41" y="476.34" width="5.20" height="5.20" fill="#000"/>
<rect x="97.40" y="434.90" width="5.20" height="5.20" fill="#000"/>
<rect x="128.60" y="384.96" width="5.20" height="5.20" fill="#000"/>
<rect x="162.40" y="372.74" width="5.20" height="5.20" fill="#000"/>
<polygon points="66.01,476.66 62.81,482.42 69.21,482.42" fill="#000"/>
<polygon points="100.00,476.66 96.80,482.42 103.20,482.42" fill="#000"/>
<polygon points="131.20,474.00 128.00,479.76 134.40,479.76" fill="#000"/>
<polygon points="165.00,437.88 161.80,443.64 168.20,443.64" fill="#000"/>
<text x="268.50" y="354.10" font-size="22.8" font-weight="bold" text-anchor="start" fill="#000" stroke="#000" stroke-width="0.25">G</text>
<line x1="308.30" y1="362.90" x2="308.30" y2="483.70" stroke="#000" stroke-width="1.2" />
<line x1="304.30" y1="374.20" x2="308.30" y2="374.20" stroke="#000" stroke-width="1.2" />
<text x="303.50" y="377.29" font-size="8.7" font-weight="bold" text-anchor="end" fill="#000" stroke="#000" stroke-width="0.32" textLength="12.48" lengthAdjust="spacingAndGlyphs">100</text>
<line x1="304.30" y1="395.98" x2="308.30" y2="395.98" stroke="#000" stroke-width="1.2" />
<text x="303.50" y="399.07" font-size="8.7" font-weight="bold" text-anchor="end" fill="#000" stroke="#000" stroke-width="0.32" textLength="8.32" lengthAdjust="spacingAndGlyphs">80</text>
<line x1="304.30" y1="417.76" x2="308.30" y2="417.76" stroke="#000" stroke-width="1.2" />
<text x="303.50" y="420.85" font-size="8.7" font-weight="bold" text-anchor="end" fill="#000" stroke="#000" stroke-width="0.32" textLength="8.32" lengthAdjust="spacingAndGlyphs">60</text>
<line x1="304.30" y1="439.54" x2="308.30" y2="439.54" stroke="#000" stroke-width="1.2" />
<text x="303.50" y="442.63" font-size="8.7" font-weight="bold" text-anchor="end" fill="#000" stroke="#000" stroke-width="0.32" textLength="8.32" lengthAdjust="spacingAndGlyphs">40</text>
<line x1="304.30" y1="461.32" x2="308.30" y2="461.32" stroke="#000" stroke-width="1.2" />
<text x="303.50" y="464.41" font-size="8.7" font-weight="bold" text-anchor="end" fill="#000" stroke="#000" stroke-width="0.32" textLength="8.32" lengthAdjust="spacingAndGlyphs">20</text>
<line x1="304.30" y1="483.10" x2="308.30" y2="483.10" stroke="#000" stroke-width="1.2" />
<text x="303.50" y="486.19" font-size="8.7" font-weight="bold" text-anchor="end" fill="#000" stroke="#000" stroke-width="0.32" textLength="4.16" lengthAdjust="spacingAndGlyphs">0</text>
<line x1="307.70" y1="483.10" x2="489.50" y2="483.10" stroke="#000" stroke-width="1.2" />
<line x1="327.82" y1="483.10" x2="327.82" y2="485.30" stroke="#000" stroke-width="0.9" />
<line x1="339.71" y1="483.10" x2="339.71" y2="485.30" stroke="#000" stroke-width="0.9" />
<line x1="348.14" y1="483.10" x2="348.14" y2="485.30" stroke="#000" stroke-width="0.9" />
<line x1="354.68" y1="483.10" x2="354.68" y2="485.30" stroke="#000" stroke-width="0.9" />
<line x1="360.03" y1="483.10" x2="360.03" y2="485.30" stroke="#000" stroke-width="0.9" />
<line x1="364.54" y1="483.10" x2="364.54" y2="485.30" stroke="#000" stroke-width="0.9" />
<line x1="368.46" y1="483.10" x2="368.46" y2="485.30" stroke="#000" stroke-width="0.9" />
<line x1="371.91" y1="483.10" x2="371.91" y2="485.30" stroke="#000" stroke-width="0.9" />
<line x1="375.00" y1="483.10" x2="375.00" y2="486.70" stroke="#000" stroke-width="1.1" />
<line x1="395.32" y1="483.10" x2="395.32" y2="485.30" stroke="#000" stroke-width="0.9" />
<line x1="407.21" y1="483.10" x2="407.21" y2="485.30" stroke="#000" stroke-width="0.9" />
<line x1="415.64" y1="483.10" x2="415.64" y2="485.30" stroke="#000" stroke-width="0.9" />
<line x1="422.18" y1="483.10" x2="422.18" y2="485.30" stroke="#000" stroke-width="0.9" />
<line x1="427.53" y1="483.10" x2="427.53" y2="485.30" stroke="#000" stroke-width="0.9" />
<line x1="432.04" y1="483.10" x2="432.04" y2="485.30" stroke="#000" stroke-width="0.9" />
<line x1="435.96" y1="483.10" x2="435.96" y2="485.30" stroke="#000" stroke-width="0.9" />
<line x1="439.41" y1="483.10" x2="439.41" y2="485.30" stroke="#000" stroke-width="0.9" />
<line x1="442.50" y1="483.10" x2="442.50" y2="486.70" stroke="#000" stroke-width="1.1" />
<line x1="462.82" y1="483.10" x2="462.82" y2="485.30" stroke="#000" stroke-width="0.9" />
<line x1="474.71" y1="483.10" x2="474.71" y2="485.30" stroke="#000" stroke-width="0.9" />
<line x1="483.14" y1="483.10" x2="483.14" y2="485.30" stroke="#000" stroke-width="0.9" />
<line x1="489.68" y1="483.10" x2="489.68" y2="485.30" stroke="#000" stroke-width="0.9" />
<text x="365.70" y="495.50" font-size="9.0" font-weight="bold" text-anchor="start" fill="#000" stroke="#000" stroke-width="0.32" textLength="8.90" lengthAdjust="spacingAndGlyphs">10</text>
<text x="376.30" y="492.10" font-size="5.4" font-weight="bold" text-anchor="start" fill="#000" stroke="#000" stroke-width="0.32" textLength="7.80" lengthAdjust="spacingAndGlyphs">-10</text>
<text x="435.20" y="495.50" font-size="9.0" font-weight="bold" text-anchor="start" fill="#000" stroke="#000" stroke-width="0.32" textLength="8.90" lengthAdjust="spacingAndGlyphs">10</text>
<text x="444.70" y="492.10" font-size="5.4" font-weight="bold" text-anchor="start" fill="#000" stroke="#000" stroke-width="0.32" textLength="4.90" lengthAdjust="spacingAndGlyphs">-9</text>
<text x="282.40" y="425.70" font-size="10.6" font-weight="bold" text-anchor="middle" fill="#000" stroke="#000" stroke-width="0.32" textLength="126.80" lengthAdjust="spacingAndGlyphs" transform="rotate(-90 282.40 425.70)">Calcium mobilization (%)</text>
<text x="314.80" y="377.70" font-size="11.6" font-weight="normal" text-anchor="start" fill="#000" stroke="#000" stroke-width="0.12" textLength="71.60" lengthAdjust="spacingAndGlyphs">neuraminidase</text>
<line x1="463.30" y1="371.80" x2="476.30" y2="371.80" stroke="#000" stroke-width="1.1" />
<rect x="467.10" y="369.30" width="5.00" height="5.00" fill="#000"/>
<line x1="463.30" y1="386.30" x2="476.30" y2="386.30" stroke="#000" stroke-width="1.1" />
<polygon points="469.60,383.06 466.50,388.64 472.70,388.64" fill="#000"/>
<text x="483.30" y="375.30" font-size="10.3" font-weight="normal" text-anchor="start" fill="#000" stroke="#000" stroke-width="0.12" textLength="28.30" lengthAdjust="spacingAndGlyphs">control</text>
<text x="483.30" y="390.00" font-size="10.3" font-weight="normal" text-anchor="start" fill="#000" stroke="#000" stroke-width="0.12" textLength="23.30" lengthAdjust="spacingAndGlyphs">SSL5</text>
<text x="397.90" y="509.40" font-size="9.8" font-weight="bold" text-anchor="middle" fill="#000" stroke="#000" stroke-width="0.32" textLength="33.80" lengthAdjust="spacingAndGlyphs">C5a (M)</text>
<polyline points="340.24,483.10 375.00,478.74 407.06,430.28 442.50,383.67" fill="none" stroke="#000" stroke-width="1.1"/>
<polyline points="340.24,483.10 375.00,480.92 407.06,438.45 442.50,387.81" fill="none" stroke="#000" stroke-width="1.1"/>
<line x1="375.00" y1="473.30" x2="375.00" y2="482.01" stroke="#000" stroke-width="1.0" />
<line x1="371.60" y1="473.30" x2="378.40" y2="473.30" stroke="#000" stroke-width="1.0" />
<line x1="371.60" y1="482.01" x2="378.40" y2="482.01" stroke="#000" stroke-width="1.0" />
<line x1="407.06" y1="408.50" x2="407.06" y2="451.52" stroke="#000" stroke-width="1.0" />
<line x1="403.66" y1="408.50" x2="410.46" y2="408.50" stroke="#000" stroke-width="1.0" />
<line x1="403.66" y1="451.52" x2="410.46" y2="451.52" stroke="#000" stroke-width="1.0" />
<line x1="442.50" y1="378.01" x2="442.50" y2="388.36" stroke="#000" stroke-width="1.0" />
<line x1="439.10" y1="378.01" x2="445.90" y2="378.01" stroke="#000" stroke-width="1.0" />
<line x1="439.10" y1="388.36" x2="445.90" y2="388.36" stroke="#000" stroke-width="1.0" />
<line x1="375.00" y1="477.66" x2="375.00" y2="483.10" stroke="#000" stroke-width="1.0" />
<line x1="371.60" y1="477.66" x2="378.40" y2="477.66" stroke="#000" stroke-width="1.0" />
<line x1="371.60" y1="483.10" x2="378.40" y2="483.10" stroke="#000" stroke-width="1.0" />
<line x1="407.06" y1="417.22" x2="407.06" y2="456.96" stroke="#000" stroke-width="1.0" />
<line x1="403.66" y1="417.22" x2="410.46" y2="417.22" stroke="#000" stroke-width="1.0" />
<line x1="403.66" y1="456.96" x2="410.46" y2="456.96" stroke="#000" stroke-width="1.0" />
<line x1="442.50" y1="380.73" x2="442.50" y2="393.80" stroke="#000" stroke-width="1.0" />
<line x1="439.10" y1="380.73" x2="445.90" y2="380.73" stroke="#000" stroke-width="1.0" />
<line x1="439.10" y1="393.80" x2="445.90" y2="393.80" stroke="#000" stroke-width="1.0" />
<rect x="337.64" y="480.50" width="5.20" height="5.20" fill="#000"/>
<rect x="372.40" y="476.14" width="5.20" height="5.20" fill="#000"/>
<rect x="404.46" y="427.68" width="5.20" height="5.20" fill="#000"/>
<rect x="439.90" y="381.07" width="5.20" height="5.20" fill="#000"/>
<polygon points="340.24,479.76 337.04,485.52 343.44,485.52" fill="#000"/>
<polygon points="375.00,477.58 371.80,483.34 378.20,483.34" fill="#000"/>
<polygon points="407.06,435.11 403.86,440.87 410.26,440.87" fill="#000"/>
<polygon points="442.50,384.47 439.30,390.23 445.70,390.23" fill="#000"/>
<text x="1.90" y="518.80" font-size="22" font-weight="bold" text-anchor="start" fill="#000" stroke="#000" stroke-width="0.25" textLength="15.40" lengthAdjust="spacingAndGlyphs">H</text>
<line x1="37.30" y1="526.30" x2="37.30" y2="645.60" stroke="#000" stroke-width="1.2" />
<line x1="33.30" y1="545.75" x2="37.30" y2="545.75" stroke="#000" stroke-width="1.2" />
<text x="32.50" y="548.84" font-size="8.7" font-weight="bold" text-anchor="end" fill="#000" stroke="#000" stroke-width="0.32" textLength="12.48" lengthAdjust="spacingAndGlyphs">100</text>
<line x1="33.30" y1="565.60" x2="37.30" y2="565.60" stroke="#000" stroke-width="1.2" />
<text x="32.50" y="568.69" font-size="8.7" font-weight="bold" text-anchor="end" fill="#000" stroke="#000" stroke-width="0.32" textLength="8.32" lengthAdjust="spacingAndGlyphs">80</text>
<line x1="33.30" y1="585.45" x2="37.30" y2="585.45" stroke="#000" stroke-width="1.2" />
<text x="32.50" y="588.54" font-size="8.7" font-weight="bold" text-anchor="end" fill="#000" stroke="#000" stroke-width="0.32" textLength="8.32" lengthAdjust="spacingAndGlyphs">60</text>
<line x1="33.30" y1="605.30" x2="37.30" y2="605.30" stroke="#000" stroke-width="1.2" />
<text x="32.50" y="608.39" font-size="8.7" font-weight="bold" text-anchor="end" fill="#000" stroke="#000" stroke-width="0.32" textLength="8.32" lengthAdjust="spacingAndGlyphs">40</text>
<line x1="33.30" y1="625.15" x2="37.30" y2="625.15" stroke="#000" stroke-width="1.2" />
<text x="32.50" y="628.24" font-size="8.7" font-weight="bold" text-anchor="end" fill="#000" stroke="#000" stroke-width="0.32" textLength="8.32" lengthAdjust="spacingAndGlyphs">20</text>
<line x1="33.30" y1="645.00" x2="37.30" y2="645.00" stroke="#000" stroke-width="1.2" />
<text x="32.50" y="648.09" font-size="8.7" font-weight="bold" text-anchor="end" fill="#000" stroke="#000" stroke-width="0.32" textLength="4.16" lengthAdjust="spacingAndGlyphs">0</text>
<line x1="36.90" y1="645.00" x2="215.50" y2="645.00" stroke="#000" stroke-width="1.2" />
<text x="12.40" y="587.80" font-size="10.6" font-weight="bold" text-anchor="middle" fill="#000" stroke="#000" stroke-width="0.32" textLength="125.00" lengthAdjust="spacingAndGlyphs" transform="rotate(-90 12.40 587.80)">Calcium mobilization (%)</text>
<rect x="47.60" y="545.75" width="17.30" height="99.25" fill="#000"/>
<rect x="68.70" y="547.54" width="17.40" height="97.16" fill="#fff" stroke="#000" stroke-width="1.1"/>
<line x1="77.40" y1="546.20" x2="77.40" y2="547.54" stroke="#000" stroke-width="1.2" />
<line x1="73.65" y1="546.20" x2="81.15" y2="546.20" stroke="#000" stroke-width="1.2" />
<line x1="66.30" y1="645.00" x2="66.30" y2="648.60" stroke="#000" stroke-width="1.0" />
<text x="66.90" y="656.80" font-size="8.9" font-weight="bold" text-anchor="middle" fill="#000" stroke="#000" stroke-width="0.32" textLength="20.70" lengthAdjust="spacingAndGlyphs">fMLP</text>
<rect x="107.10" y="545.75" width="17.30" height="99.25" fill="#000"/>
<rect x="128.20" y="546.15" width="17.40" height="98.55" fill="#fff" stroke="#000" stroke-width="1.1"/>
<line x1="136.90" y1="538.00" x2="136.90" y2="546.15" stroke="#000" stroke-width="1.2" />
<line x1="132.50" y1="538.00" x2="141.30" y2="538.00" stroke="#000" stroke-width="1.2" />
<line x1="126.00" y1="645.00" x2="126.00" y2="648.60" stroke="#000" stroke-width="1.0" />
<text x="126.00" y="656.80" font-size="8.9" font-weight="bold" text-anchor="middle" fill="#000" stroke="#000" stroke-width="0.32" textLength="28.50" lengthAdjust="spacingAndGlyphs">CXCL8</text>
<rect x="166.00" y="545.75" width="17.30" height="99.25" fill="#000"/>
<rect x="187.10" y="541.78" width="17.40" height="102.92" fill="#fff" stroke="#000" stroke-width="1.1"/>
<line x1="195.80" y1="533.80" x2="195.80" y2="541.78" stroke="#000" stroke-width="1.2" />
<line x1="191.40" y1="533.80" x2="200.20" y2="533.80" stroke="#000" stroke-width="1.2" />
<line x1="185.00" y1="645.00" x2="185.00" y2="648.60" stroke="#000" stroke-width="1.0" />
<text x="185.00" y="656.80" font-size="8.9" font-weight="bold" text-anchor="middle" fill="#000" stroke="#000" stroke-width="0.32" textLength="15.50" lengthAdjust="spacingAndGlyphs">C5a</text>
<rect x="49.50" y="514.50" width="13.70" height="6.80" fill="#000"/>
<rect x="50.00" y="528.40" width="12.70" height="6.50" fill="#fff" stroke="#000" stroke-width="1.0"/>
<text x="70.00" y="521.40" font-size="10.2" font-weight="normal" text-anchor="start" fill="#000" stroke="#000" stroke-width="0.12" textLength="28.90" lengthAdjust="spacingAndGlyphs">control</text>
<text x="70.00" y="535.20" font-size="10.2" font-weight="normal" text-anchor="start" fill="#000" stroke="#000" stroke-width="0.12" textLength="27.60" lengthAdjust="spacingAndGlyphs">SSL11</text>
</svg>
</body></html>
